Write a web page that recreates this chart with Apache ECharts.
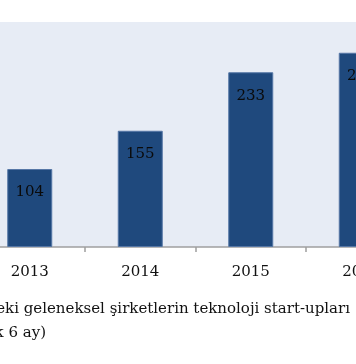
<!DOCTYPE html>
<html>
<head>
<meta charset="utf-8">
<script src="https://cdn.jsdelivr.net/npm/echarts@6/dist/echarts.min.js"></script>
<style>html,body{margin:0;padding:0;background:#fff;}#c{width:356px;height:364px;}</style>
</head>
<body>
<div id="c"></div>
<script>
const years = ['2013', '2014', '2015', '2016'];
const acquisitions = [104, 155, 233, 259];
const captionLine1 = "ABD'deki geleneksel şirketlerin teknoloji start-upları";
const captionLine2 = "(ilk 6 ay)";

const chart = echarts.init(document.getElementById('c'), null, {renderer: 'canvas'});
const serif = 'DejaVu Serif';
chart.setOption({
  animation: false,
  backgroundColor: '#ffffff',
  grid: {
    left: -25.5, top: 22, width: 442, height: 225,
    outerBoundsMode: 'none', containLabel: false,
    show: true, backgroundColor: '#e7ecf5', borderWidth: 0
  },
  xAxis: {
    type: 'category',
    data: years,
    axisLine: {lineStyle: {color: '#9f9f9f', width: 1.5}},
    axisTick: {show: true, length: 5, lineStyle: {color: '#9f9f9f', width: 1.5}},
    axisLabel: {fontFamily: serif, fontSize: 15, color: '#111', margin: 18}
  },
  yAxis: {
    type: 'value', min: 0, max: 300, show: false,
    splitLine: {show: false}
  },
  series: [{
    type: 'bar',
    data: acquisitions,
    barWidth: 45,
    itemStyle: {color: '#1f497d', borderColor: '#5677a6', borderWidth: 1},
    label: {
      show: true, position: 'insideTop', distance: 16,
      fontFamily: serif, fontSize: 15, color: '#0a0a0a'
    }
  }],
  graphic: [
    {type: 'text', x: 350, y: 309, style: {text: captionLine1, align: 'right', verticalAlign: 'middle', font: '15px "DejaVu Serif"', fill: '#111'}},
    {type: 'text', x: 46, y: 333, style: {text: captionLine2, align: 'right', verticalAlign: 'middle', font: '15px "DejaVu Serif"', fill: '#111'}}
  ]
});
</script>
</body>
</html>
